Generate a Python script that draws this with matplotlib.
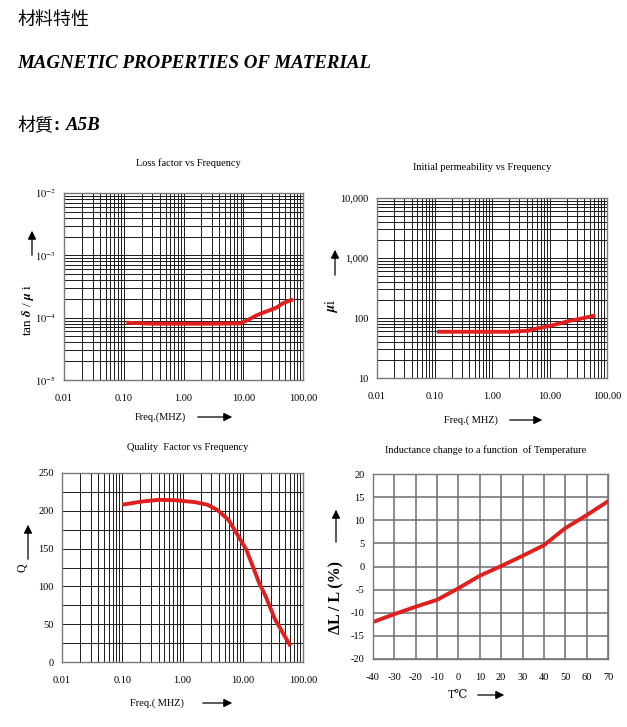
import numpy as np
import matplotlib
matplotlib.use('Agg')
import matplotlib.pyplot as plt
from matplotlib.ticker import FixedLocator, LogLocator, NullFormatter, NullLocator

plt.rcParams['font.family'] = ['Liberation Serif', 'DejaVu Serif']
plt.rcParams['mathtext.fontset'] = 'stix'
plt.rcParams['axes.unicode_minus'] = False

W, H = 627, 727

# data
loss_freq = [0.11, 0.3, 1.0, 3.0, 9.0, 12, 17, 25, 36, 46, 68]
loss_val = [8.3e-5, 8.0e-5, 8.0e-5, 8.0e-5, 8.1e-5, 9.2e-5, 1.1e-4, 1.27e-4, 1.45e-4, 1.7e-4, 1.97e-4]

perm_freq = [0.11, 0.5, 2.0, 4.3, 5.3, 9.0, 15, 23, 40, 63]
perm_val = [59, 59, 59, 61.5, 65, 72, 81, 90, 100, 111]

q_freq = [0.1, 0.2, 0.4, 0.76, 1.6, 2.6, 3.8, 5.8, 8.5, 11.4, 14.6, 18.6, 24, 34, 62]
q_val = [208, 212, 214.5, 214, 211.5, 208, 201, 188, 166, 149, 127, 105, 87, 57, 21]

temp_c = [-40, -30, -20, -10, 0, 10, 20, 30, 40, 50, 60, 70]
dl_pct = [-12.0, -10.3, -8.7, -7.2, -4.7, -2.0, 0.1, 2.3, 4.6, 8.3, 11.1, 14.1]

freq_ticks = [0.01, 0.1, 1, 10, 100]
freq_labels = ['0.01', '0.10', '1.00', '10.00', '100.00']
loss_ticks = [1e-5, 1e-4, 1e-3, 1e-2]
loss_labels = [r'$10^{-5}$', r'$10^{-4}$', r'$10^{-3}$', r'$10^{-2}$']
perm_ticks = [10, 100, 1000, 10000]
perm_labels = ['10', '100', '1,000', '10,000']

RED = '#e0201e'

fig = plt.figure(figsize=(W / 100, H / 100), dpi=100)


def box(l, t, r, b):
    # pixel box (top-left origin) -> figure fraction rect
    return [l / W, 1 - b / H, (r - l) / W, (b - t) / H]


def arrow(x0, y0, x1, y1):
    fig.add_artist(matplotlib.patches.FancyArrowPatch(
        (x0 / W, 1 - y0 / H), (x1 / W, 1 - y1 / H), transform=fig.transFigure,
        arrowstyle='-|>,head_length=5,head_width=2.5', color='black', lw=0.9, mutation_scale=1))


def log_freq_axis(ax):
    ax.set_xscale('log')
    ax.set_xlim(0.01, 100)
    ax.xaxis.set_major_locator(FixedLocator(freq_ticks))
    ax.set_xticklabels(freq_labels)
    ax.xaxis.set_minor_locator(LogLocator(base=10, subs=np.arange(2, 10)))
    ax.xaxis.set_minor_formatter(NullFormatter())


def style(ax, gcol='#1a1a1a', glw=0.7):
    ax.grid(True, which='both', color=gcol, lw=glw)
    ax.set_axisbelow(True)
    ax.tick_params(which='both', length=0, labelsize=7.5)
    ax.tick_params(axis='x', pad=10)
    ax.tick_params(axis='y', pad=6)
    for s in ax.spines.values():
        s.set_color('#777777')
        s.set_linewidth(1.0)


# header text
fig.text(17 / W, 1 - 20 / H, '材料特性', family=['Noto Sans CJK TC'], fontsize=13, va='center')
fig.text(17 / W, 1 - 64 / H, 'MAGNETIC PROPERTIES OF MATERIAL', fontsize=13.6,
         weight='bold', style='italic', va='center')
fig.text(17 / W, 1 - 126 / H, '材質', family=['Noto Sans CJK TC'], fontsize=13, va='center')
fig.text(57 / W, 1 - 126 / H, ':', fontsize=13.6, weight='bold', ha='center', va='center')
fig.text(66 / W, 1 - 126 / H, 'A5B', fontsize=13.6, weight='bold', style='italic', va='center')

# 1) loss factor
ax1 = fig.add_axes(box(64, 193, 303, 380))
log_freq_axis(ax1)
ax1.set_yscale('log')
ax1.set_ylim(1e-5, 1e-2)
ax1.yaxis.set_major_locator(FixedLocator(loss_ticks))
ax1.set_yticklabels(loss_labels)
ax1.yaxis.set_minor_locator(LogLocator(base=10, subs=np.arange(2, 10)))
ax1.yaxis.set_minor_formatter(NullFormatter())
style(ax1)
ax1.plot(loss_freq, loss_val, color=RED, lw=2.8, solid_capstyle='butt')
fig.text(188 / W, 1 - 163 / H, 'Loss factor vs Frequency', fontsize=7.5, ha='center', va='center')
fig.text(160 / W, 1 - 417 / H, 'Freq.(MHZ)', fontsize=7.5, ha='center', va='center')
arrow(195, 417, 235, 417)
fig.text(28 / W, 1 - 310 / H, r'tan $\boldsymbol{\delta}$ / $\boldsymbol{\mu}$ i', fontsize=9.5,
         rotation=90, ha='center', va='center')
arrow(32, 258, 32, 228)

# 2) initial permeability
ax2 = fig.add_axes(box(377, 198, 607, 378))
log_freq_axis(ax2)
ax2.set_yscale('log')
ax2.set_ylim(10, 10000)
ax2.yaxis.set_major_locator(FixedLocator(perm_ticks))
ax2.set_yticklabels(perm_labels)
ax2.yaxis.set_minor_locator(LogLocator(base=10, subs=np.arange(2, 10)))
ax2.yaxis.set_minor_formatter(NullFormatter())
style(ax2)
ax2.plot(perm_freq, perm_val, color=RED, lw=2.8, solid_capstyle='butt')
fig.text(482 / W, 1 - 168 / H, 'Initial permeability vs Frequency', fontsize=7.5, ha='center', va='center')
fig.text(471 / W, 1 - 420 / H, 'Freq.( MHZ)', fontsize=7.5, ha='center', va='center')
arrow(507, 420, 545, 420)
fig.text(331 / W, 1 - 306 / H, r'$\boldsymbol{\mu}$i', fontsize=10, rotation=90, ha='center', va='center')
arrow(335, 278, 335, 247)

# 3) quality factor
ax3 = fig.add_axes(box(62, 473, 303, 662))
log_freq_axis(ax3)
ax3.set_ylim(0, 250)
ax3.yaxis.set_major_locator(FixedLocator(np.arange(0, 251, 50)))
ax3.yaxis.set_minor_locator(FixedLocator(np.arange(25, 250, 50)))
style(ax3)
ax3.plot(q_freq, q_val, color=RED, lw=2.8, solid_capstyle='butt')
fig.text(188 / W, 1 - 447 / H, 'Quality  Factor vs Frequency', fontsize=7.5, ha='center', va='center')
fig.text(157 / W, 1 - 703 / H, 'Freq.( MHZ)', fontsize=7.5, ha='center', va='center')
arrow(200, 703, 235, 703)
fig.text(23 / W, 1 - 568 / H, 'Q', fontsize=8.5, rotation=90, ha='center', va='center')
arrow(28, 562, 28, 522)

# 4) inductance vs temperature
ax4 = fig.add_axes(box(373, 474, 608, 659))
ax4.set_xlim(-40, 70)
ax4.set_ylim(-20, 20)
ax4.xaxis.set_major_locator(FixedLocator(np.arange(-40, 71, 10)))
ax4.yaxis.set_major_locator(FixedLocator(np.arange(-20, 21, 5)))
ax4.xaxis.set_minor_locator(NullLocator())
style(ax4, gcol='#6e6e6e', glw=1.1)
ax4.plot(temp_c, dl_pct, color=RED, lw=2.8)
fig.text(486 / W, 1 - 450 / H, 'Inductance change to a function  of Temperature', fontsize=7.5,
         ha='center', va='center')
fig.text(458 / W, 1 - 695 / H, 'T℃', fontsize=8.5, ha='center', va='center')
arrow(475, 695, 507, 695)
fig.text(336 / W, 1 - 597 / H, 'ΔL / L (%)', fontsize=11.5, weight='bold', rotation=90,
         ha='center', va='center')
arrow(336, 545, 336, 507)

fig.savefig('out.png', dpi=100)
